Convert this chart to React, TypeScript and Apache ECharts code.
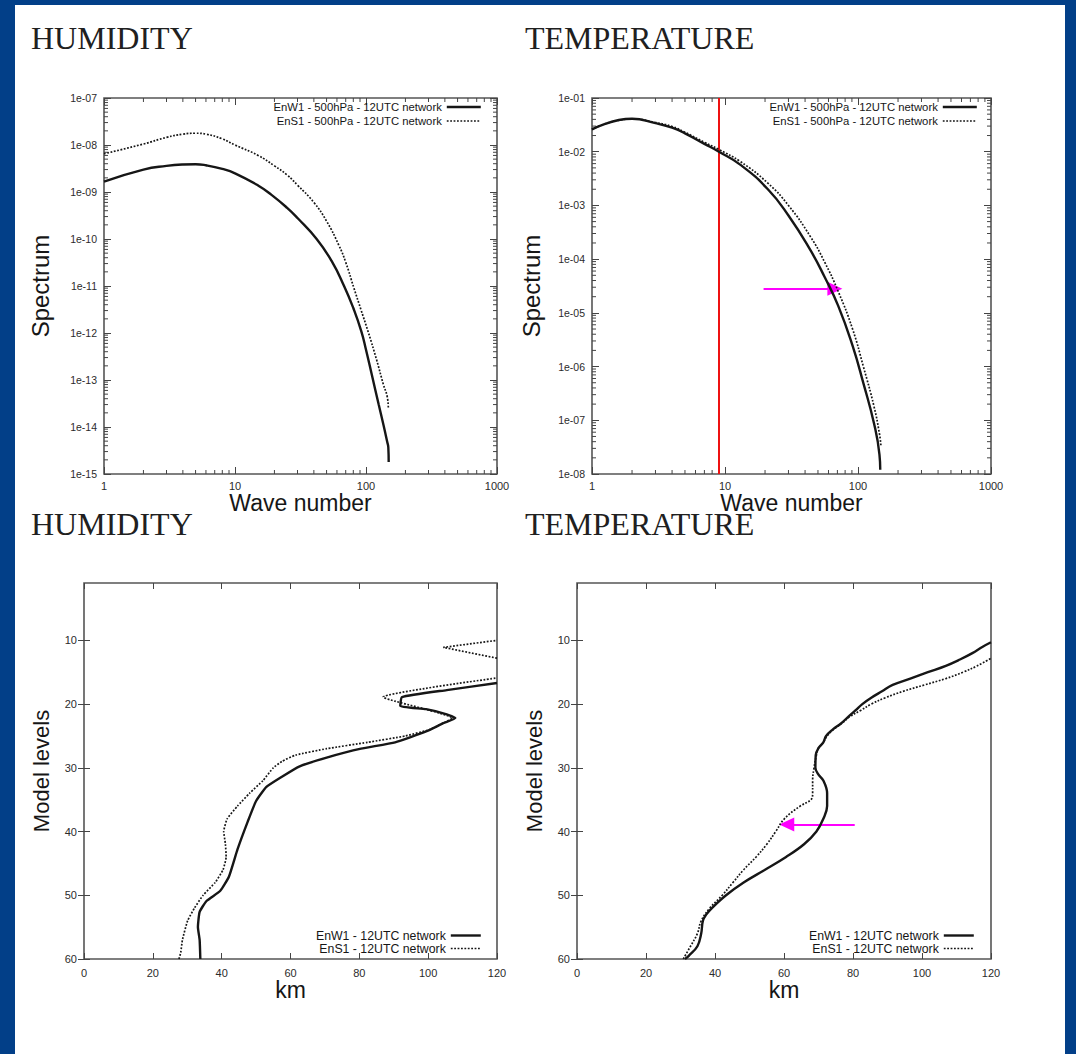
import React, { useEffect, useRef } from 'react';
import * as echarts from 'echarts';

// ---------------- page / style constants ----------------
const PAGE_W = 1076;
const PAGE_H = 1054;
const BLUE = '#023f88';
const INK = '#161616';
const LABEL = '#2b2b2b';
const FRAME = '#555555';
const TICK = '#444444';
const RED = '#ee1111';
const MAGENTA = '#ff00ff';
const SANS = '"Liberation Sans", Arial, Helvetica, sans-serif';
const SERIF = '"Liberation Serif", "Times New Roman", serif';

// ---------------- texts ----------------
const panelTitles = ['HUMIDITY', 'TEMPERATURE', 'HUMIDITY', 'TEMPERATURE'];
const NAME_W500 = 'EnW1 - 500hPa - 12UTC network';
const NAME_S500 = 'EnS1 - 500hPa - 12UTC network';
const NAME_W12 = 'EnW1 - 12UTC network';
const NAME_S12 = 'EnS1 - 12UTC network';

// ---------------- axis ranges / ticks ----------------
const waveRange = [1, 1000];
const humSpecRange = [1e-15, 1e-7];
const tempSpecRange = [1e-8, 1e-1];
const kmRange = [0, 120];
const levelRange = [1, 60];
const levelTicks = [10, 20, 30, 40, 50, 60];
const waveMinorTicks = [2, 3, 4, 5, 6, 7, 8, 9, 20, 30, 40, 50, 60, 70, 80, 90, 200, 300, 400, 500, 600, 700, 800, 900];
const minorMultipliers = [2, 3, 4, 5, 6, 7, 8, 9];
const humSpecDecades = [1e-15, 1e-14, 1e-13, 1e-12, 1e-11, 1e-10, 1e-9, 1e-8];
const tempSpecDecades = [1e-8, 1e-7, 1e-6, 1e-5, 1e-4, 1e-3, 1e-2];

// ---------------- data: HUMIDITY spectrum ----------------
const humWaveW = [1, 2, 3, 4, 5, 6, 8, 10, 15, 19, 25, 30, 42, 55, 68, 80, 92, 100, 111, 125, 136, 145, 148, 149];
const humSpecW = [1.66e-9, 3.0e-9, 3.6e-9, 3.85e-9, 3.9e-9, 3.7e-9, 3.1e-9, 2.5e-9, 1.38e-9, 8.7e-10, 4.6e-10, 2.8e-10, 1.0e-10, 3.3e-11, 1.0e-11, 3.4e-12, 1.1e-12, 4.4e-13, 1.26e-13, 3.0e-14, 1.1e-14, 4.9e-15, 3.7e-15, 1.8e-15];
const humWaveS = [1, 2, 3, 4, 5, 6, 8, 10, 15, 20, 25, 30, 40, 50, 62, 70, 81, 92, 104, 120, 136, 145, 148];
const humSpecS = [6.5e-9, 1.05e-8, 1.45e-8, 1.7e-8, 1.78e-8, 1.7e-8, 1.35e-8, 1.0e-8, 6.0e-9, 3.6e-9, 2.3e-9, 1.4e-9, 6.0e-10, 2.4e-10, 7.4e-11, 3.2e-11, 8.9e-12, 3.0e-12, 1.05e-12, 2.8e-13, 7.9e-14, 4.5e-14, 2.6e-14];

// ---------------- data: TEMPERATURE spectrum ----------------
const tempWaveW = [1, 2, 3, 4, 5, 7, 9, 13, 21, 30, 44, 56, 71, 91, 110, 132, 145, 147];
const tempSpecW = [2.6e-2, 4.1e-2, 3.4e-2, 2.8e-2, 2.2e-2, 1.4e-2, 1.0e-2, 5.75e-3, 2.0e-3, 6.5e-4, 1.45e-4, 4.7e-5, 1.35e-5, 2.45e-6, 4.8e-7, 8.7e-8, 2.3e-8, 1.2e-8];
const tempWaveS = [1, 2, 3, 4, 5, 7, 9, 13, 21, 30, 44, 56, 71, 91, 110, 132, 145, 149];
const tempSpecS = [2.6e-2, 4.1e-2, 3.5e-2, 2.95e-2, 2.3e-2, 1.5e-2, 1.1e-2, 6.6e-3, 2.6e-3, 1.0e-3, 2.6e-4, 8.9e-5, 2.5e-5, 5.0e-6, 9.8e-7, 1.8e-7, 5.6e-8, 3.2e-8];
const redLineWave = 9;
const arrowTopFrom = [19.5, 2.8e-5];
const arrowTopTo = [67, 2.8e-5];

// ---------------- data: HUMIDITY km / model levels ----------------
const humLevW = [60, 57, 55, 52.6, 50.9, 49.3, 47.1, 42.8, 38.4, 35.2, 33, 31.4, 29.8, 28.4, 27, 26, 24.3, 23, 22.2, 21.6, 20.8, 20.3, 18.9, 17.8, 16.7];
const humKmW = [33.8, 33.6, 33.1, 33.6, 35.6, 39.6, 42.1, 44.6, 47.6, 50, 53, 57.5, 62.5, 70.5, 80.5, 90.4, 99.4, 104.4, 107.9, 105.4, 99.4, 91.9, 92.4, 105.4, 120];
const humLevS = [60, 59, 57, 54, 52, 50, 48, 46, 44, 42, 40, 38, 36, 34, 32, 30, 29, 28, 27, 26, 25, 24, 23, 22.2, 18.9, 15.9];
const humKmS = [27.6, 28.1, 28.6, 30.1, 32.1, 34.6, 38.1, 40.4, 41.3, 41.1, 40.6, 41.6, 44.6, 48.1, 52.0, 55.0, 57.5, 61.5, 70.5, 82.4, 93.4, 100.4, 104.4, 107, 86.9, 120];
const humLevSTop = [12.8, 11.1, 10];
const humKmSTop = [120, 104.4, 120];

// ---------------- data: TEMPERATURE km / model levels ----------------
const tempLevW = [60, 59.5, 58, 56, 54, 53, 52, 50, 48, 46, 44, 42, 40, 38, 36, 34, 32, 31, 30, 28, 27, 26, 25, 24, 23, 22, 21, 20, 19, 18, 17, 16, 15, 14, 13, 12, 11, 10.3];
const tempKmW = [31.3, 32.4, 34.9, 36, 36.5, 37.5, 39.1, 43.2, 48.3, 54.5, 60.6, 65.8, 69.4, 71.4, 72.5, 72.5, 71.4, 69.9, 69.1, 69.2, 69.9, 71.4, 72.2, 74.1, 76.6, 78.6, 80.7, 82.7, 85.3, 88.4, 91.5, 96.6, 101.7, 106.9, 111, 114.6, 117.6, 120];
const tempLevS = [60, 58, 56, 54, 52, 50, 48, 46, 44, 42, 40, 38, 36, 35, 34, 32, 30, 28, 27, 26, 25, 24, 23, 22, 21, 20, 19, 18, 17, 16, 15, 14, 12.8];
const tempKmS = [30.8, 32.9, 34.9, 36, 38.5, 42.1, 45.2, 48.3, 51.9, 55, 57.6, 60.1, 64.7, 67.8, 68.3, 68.3, 68.7, 69.4, 69.9, 71.4, 72.5, 74.3, 76.8, 79, 82.2, 85.3, 89.4, 94.5, 100.7, 106.9, 111.9, 116, 120];
const arrowBotFrom = [80.5, 38.9];
const arrowBotTo = [60.8, 38.9];

// ---------------- layout ----------------
const gridBoxes = [
  { left: 104, top: 98, width: 393, height: 376 },
  { left: 592, top: 98, width: 399, height: 376 },
  { left: 84, top: 583, width: 413, height: 376 },
  { left: 577, top: 583, width: 414, height: 376 },
];
const titlePos = [
  [31, 38],
  [525, 38],
  [31, 524],
  [525, 524],
];

const pairs = (xs: number[], ys: number[]) => xs.map((x, i) => [x, ys[i]]);
const expFmt = (v: number) => {
  const e = Math.round(Math.log10(v));
  return '1e' + (e < 0 ? '-' : '+') + String(Math.abs(e)).padStart(2, '0');
};

const MAJOR = 7;
const MINOR = 4;

function makeAxis(o: any) {
  const tick: any = { show: true, inside: true, length: o.tickLen ?? MAJOR, lineStyle: { color: TICK, width: 1 } };
  if (o.custom) tick.customValues = o.custom;
  const label: any = o.labels
    ? { show: true, margin: o.margin ?? 7, fontSize: o.fontSize ?? 11, color: LABEL, fontFamily: SANS, formatter: o.formatter }
    : { show: false };
  if (o.labels && o.custom) label.customValues = o.custom;
  const ax: any = {
    gridIndex: o.g,
    type: o.type,
    position: o.position,
    min: o.min,
    max: o.max,
    inverse: !!o.inverse,
    axisLine: { show: false },
    axisTick: tick,
    axisLabel: label,
    splitLine: { show: false },
    minorTick: { show: false },
    name: o.name || '',
    nameLocation: 'middle',
    nameGap: o.nameGap ?? 10,
    nameTextStyle: { fontSize: o.nameSize ?? 22, color: INK, fontFamily: SANS },
  };
  if (o.type === 'log') ax.logBase = 10;
  if (o.interval != null) ax.interval = o.interval;
  return ax;
}

function minorTickSeries(xi: number, yi: number, vals: number[], dir: 'x' | 'y', xr: number[], yr: number[]) {
  return {
    type: 'custom',
    xAxisIndex: xi,
    yAxisIndex: yi,
    silent: true,
    z: 4,
    data: vals.map((v) => (dir === 'x' ? [v, yr[0]] : [xr[0], v])),
    renderItem: (_p: any, api: any) => {
      const v = api.value(dir === 'x' ? 0 : 1);
      const a = dir === 'x' ? api.coord([v, yr[0]]) : api.coord([xr[0], v]);
      const b = dir === 'x' ? api.coord([v, yr[1]]) : api.coord([xr[1], v]);
      const seg = (x1: number, y1: number, x2: number, y2: number) => ({
        type: 'line',
        shape: { x1, y1, x2, y2 },
        style: { stroke: TICK, lineWidth: 1 },
      });
      return {
        type: 'group',
        children:
          dir === 'x'
            ? [seg(a[0], a[1], a[0], a[1] - MINOR), seg(b[0], b[1], b[0], b[1] + MINOR)]
            : [seg(a[0], a[1], a[0] + MINOR, a[1]), seg(b[0], b[1], b[0] - MINOR, b[1])],
      };
    },
  };
}

const SOLID = { color: INK, width: 2.4, type: 'solid' };
const DOTTED = { color: INK, width: 1.7, type: [1.8, 1.6] };

function buildOption() {
  const xAxes: any[] = [];
  const yAxes: any[] = [];

  // Top plots: log-log spectra
  const specY = [humSpecRange, tempSpecRange];
  const specNameGap = [52, 49];
  [0, 1].forEach((g) => {
    const yr = specY[g];
    xAxes.push(makeAxis({ g, type: 'log', position: 'bottom', min: waveRange[0], max: waveRange[1], labels: true, margin: 6, fontSize: 11, formatter: (v: number) => String(Math.round(v)), name: 'Wave number', nameGap: 14, nameSize: 23 }));
    xAxes.push(makeAxis({ g, type: 'log', position: 'top', min: waveRange[0], max: waveRange[1], labels: false }));
    yAxes.push(makeAxis({ g, type: 'log', position: 'left', min: yr[0], max: yr[1], labels: true, margin: 7, fontSize: 10.5, formatter: expFmt, name: 'Spectrum', nameGap: specNameGap[g], nameSize: 24 }));
    yAxes.push(makeAxis({ g, type: 'log', position: 'right', min: yr[0], max: yr[1], labels: false }));
  });
  // Bottom plots: km vs model levels
  const lvlNameGap = [32, 32];
  [2, 3].forEach((g, i) => {
    xAxes.push(makeAxis({ g, type: 'value', position: 'bottom', min: kmRange[0], max: kmRange[1], interval: 20, labels: true, margin: 8, fontSize: 11, tickLen: 6, formatter: (v: number) => String(v), name: 'km', nameGap: 13, nameSize: 23 }));
    xAxes.push(makeAxis({ g, type: 'value', position: 'top', min: kmRange[0], max: kmRange[1], interval: 20, labels: false, tickLen: 6 }));
    yAxes.push(makeAxis({ g, type: 'value', position: 'left', min: levelRange[0], max: levelRange[1], inverse: true, custom: levelTicks, labels: true, margin: 7, fontSize: 11, tickLen: 6, formatter: (v: number) => String(v), name: 'Model levels', nameGap: lvlNameGap[i], nameSize: 22 }));
    yAxes.push(makeAxis({ g, type: 'value', position: 'right', min: levelRange[0], max: levelRange[1], inverse: true, custom: levelTicks, labels: false, tickLen: 6 }));
  });

  const humMinorY = humSpecDecades.flatMap((d) => minorMultipliers.map((m) => m * d));
  const tempMinorY = tempSpecDecades.flatMap((d) => minorMultipliers.map((m) => m * d));

  const lineBase = { type: 'line', symbol: 'none', showSymbol: false, z: 5, silent: true };

  const series: any[] = [
    // HUMIDITY spectrum
    { ...lineBase, name: NAME_W500, xAxisIndex: 0, yAxisIndex: 0, data: pairs(humWaveW, humSpecW), smooth: 0.5, lineStyle: SOLID },
    { ...lineBase, name: NAME_S500, xAxisIndex: 0, yAxisIndex: 0, data: pairs(humWaveS, humSpecS), smooth: 0.5, lineStyle: DOTTED },
    // TEMPERATURE spectrum
    {
      ...lineBase, name: NAME_W500, xAxisIndex: 2, yAxisIndex: 2, data: pairs(tempWaveW, tempSpecW), smooth: 0.5, lineStyle: SOLID,
      markLine: { silent: true, symbol: ['none', 'none'], label: { show: false }, lineStyle: { color: RED, width: 2, type: 'solid' }, data: [{ xAxis: redLineWave }] },
    },
    {
      ...lineBase, name: NAME_S500, xAxisIndex: 2, yAxisIndex: 2, data: pairs(tempWaveS, tempSpecS), smooth: 0.5, lineStyle: DOTTED,
      markLine: {
        silent: true, symbol: ['none', 'triangle'], symbolSize: [14, 15], label: { show: false },
        lineStyle: { color: MAGENTA, width: 2, type: 'solid' }, itemStyle: { color: MAGENTA },
        data: [[{ coord: arrowTopFrom }, { coord: arrowTopTo }]],
      },
    },
    // HUMIDITY levels
    { ...lineBase, name: NAME_W12, xAxisIndex: 4, yAxisIndex: 4, data: pairs(humKmW, humLevW), smooth: 0.15, lineStyle: SOLID },
    { ...lineBase, name: NAME_S12, xAxisIndex: 4, yAxisIndex: 4, data: pairs(humKmS, humLevS), smooth: 0.15, lineStyle: DOTTED },
    { ...lineBase, name: NAME_S12, xAxisIndex: 4, yAxisIndex: 4, data: pairs(humKmSTop, humLevSTop), lineStyle: DOTTED },
    // TEMPERATURE levels
    { ...lineBase, name: NAME_W12, xAxisIndex: 6, yAxisIndex: 6, data: pairs(tempKmW, tempLevW), smooth: 0.4, lineStyle: SOLID },
    {
      ...lineBase, name: NAME_S12, xAxisIndex: 6, yAxisIndex: 6, data: pairs(tempKmS, tempLevS), smooth: 0.4, lineStyle: DOTTED,
      markLine: {
        silent: true, symbol: ['none', 'triangle'], symbolSize: [14, 15], label: { show: false },
        lineStyle: { color: MAGENTA, width: 2, type: 'solid' }, itemStyle: { color: MAGENTA },
        data: [[{ coord: arrowBotFrom }, { coord: arrowBotTo }]],
      },
    },
    // gnuplot-style minor ticks on log axes
    minorTickSeries(0, 0, waveMinorTicks, 'x', waveRange, humSpecRange),
    minorTickSeries(0, 0, humMinorY, 'y', waveRange, humSpecRange),
    minorTickSeries(2, 2, waveMinorTicks, 'x', waveRange, tempSpecRange),
    minorTickSeries(2, 2, tempMinorY, 'y', waveRange, tempSpecRange),
  ];

  const legendBase = {
    orient: 'vertical', align: 'right', padding: 0, itemGap: 0, selectedMode: false,
    itemStyle: { opacity: 0 }, lineStyle: { width: 'inherit' },
  };

  return {
    animation: false,
    textStyle: { fontFamily: SANS },
    grid: gridBoxes.map((b) => ({ ...b, show: true, borderColor: FRAME, borderWidth: 1.6, backgroundColor: 'transparent', containLabel: false })),
    xAxis: xAxes,
    yAxis: yAxes,
    legend: [
      { ...legendBase, data: [NAME_W500, NAME_S500], right: PAGE_W - 482, top: 100, itemWidth: 34, itemHeight: 14, textStyle: { fontSize: 11.3, color: INK, fontFamily: SANS, lineHeight: 14 } },
      { ...legendBase, data: [NAME_W500, NAME_S500], right: PAGE_W - 978, top: 100, itemWidth: 34, itemHeight: 14, textStyle: { fontSize: 11.3, color: INK, fontFamily: SANS, lineHeight: 14 } },
      { ...legendBase, data: [NAME_W12, NAME_S12], right: PAGE_W - 482, top: 929, itemWidth: 30, itemHeight: 13, textStyle: { fontSize: 12.3, color: INK, fontFamily: SANS, lineHeight: 13 } },
      { ...legendBase, data: [NAME_W12, NAME_S12], right: PAGE_W - 975, top: 929, itemWidth: 30, itemHeight: 13, textStyle: { fontSize: 12.3, color: INK, fontFamily: SANS, lineHeight: 13 } },
    ],
    graphic: {
      elements: panelTitles.map((t, i) => ({
        type: 'text',
        x: titlePos[i][0],
        y: titlePos[i][1],
        silent: true,
        style: { text: t, fill: '#202020', fontSize: 32, fontFamily: SERIF, verticalAlign: 'middle' },
      })),
    },
    series,
  };
}

export default function App() {
  const ref = useRef<HTMLDivElement>(null);
  useEffect(() => {
    if (!ref.current) return;
    const chart = echarts.init(ref.current, undefined, { renderer: 'svg', width: PAGE_W, height: PAGE_H });
    chart.setOption(buildOption() as any);
    return () => chart.dispose();
  }, []);
  return (
    <div style={{ position: 'absolute', left: 0, top: 0, width: PAGE_W, height: PAGE_H, background: BLUE, overflow: 'hidden' }}>
      <div style={{ position: 'absolute', left: 15, top: 5, width: 1050, height: PAGE_H - 5, background: '#ffffff' }} />
      <div ref={ref} style={{ position: 'absolute', left: 0, top: 0, width: PAGE_W, height: PAGE_H }} />
    </div>
  );
}
